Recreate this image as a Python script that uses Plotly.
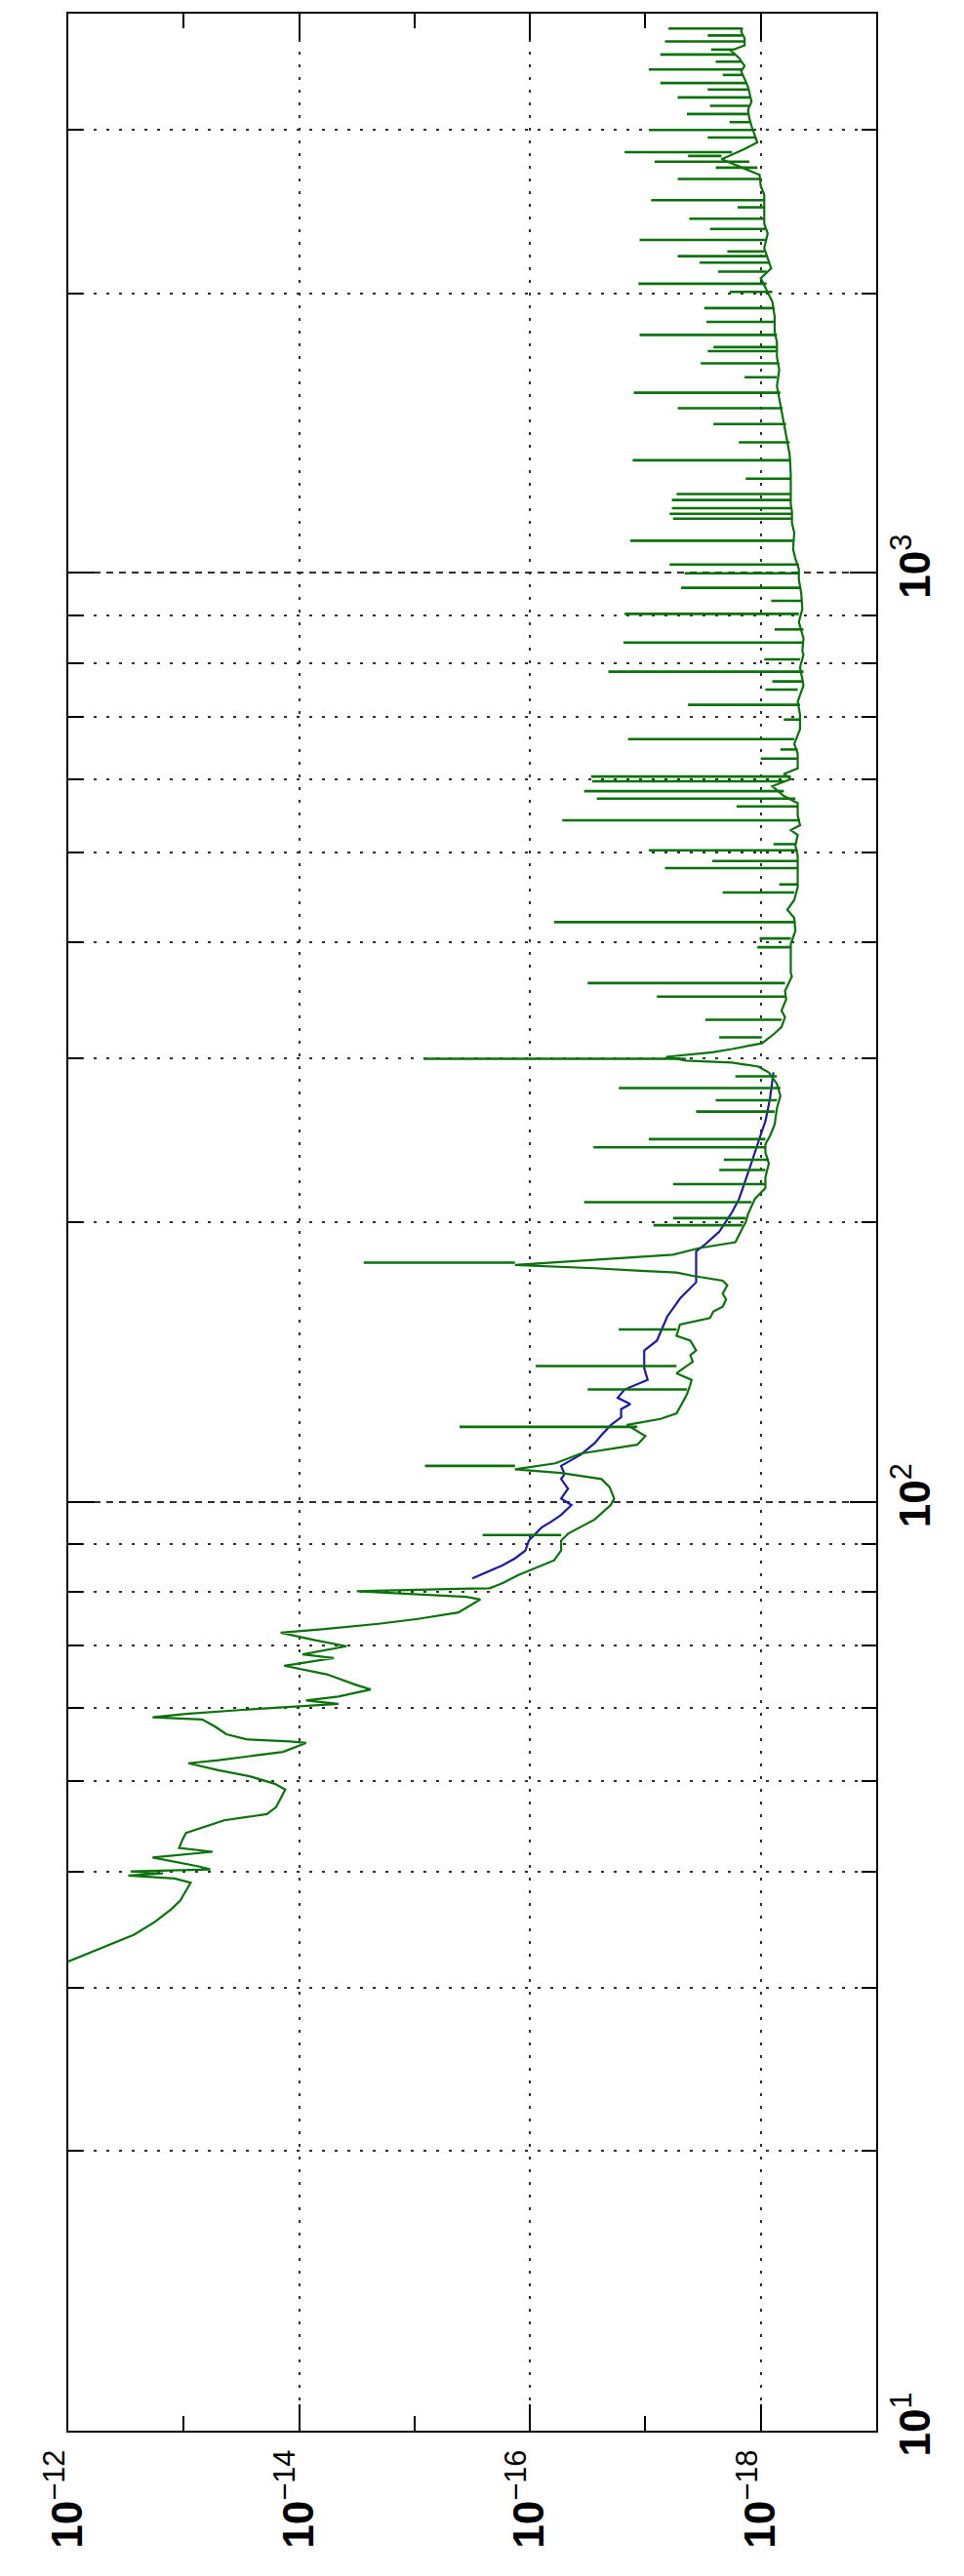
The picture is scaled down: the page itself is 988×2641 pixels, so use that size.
import math
import plotly.graph_objects as go

# ---------------- data (frequency in Hz, PSD given as log10 value) ----------------
# green curve body, split by frequency band
g1_freq = [32.0, 32.6, 33.4, 34.2, 35.3, 36.4, 37.2, 38.6, 38.9, 39.3,
           39.6, 39.8, 40.0, 40.2, 40.5, 41.4, 42.0, 42.4, 43.3, 44.0,
           45.4, 46.1, 46.9, 49.0, 49.7, 50.6, 51.4, 52.3, 52.7, 53.3,
           53.8, 55.0, 55.2, 55.5, 56.2, 57.3, 58.3, 58.6, 59.1, 59.7,
           60.2, 60.6, 61.1, 61.7, 62.8, 63.6, 65.2, 66.0, 66.6, 67.9,
           68.5, 69.9, 71.0, 72.3, 72.9, 73.9, 74.8, 76.0, 78.5, 79.0,
           79.5, 80.1, 80.6, 80.7, 81.7, 83.4, 86.5]
g1_lpsd = [-12.00, -12.16, -12.37, -12.57, -12.75, -12.89, -12.97, -13.04, -13.06, -12.92,
           -12.52, -12.82, -12.54, -13.23, -13.13, -12.73, -13.25, -12.96, -12.99, -13.02,
           -13.35, -13.72, -13.80, -13.88, -13.79, -13.58, -13.30, -13.04, -13.30, -13.61,
           -13.86, -14.06, -13.92, -13.54, -13.37, -13.27, -13.16, -12.73, -13.02, -13.51,
           -13.99, -14.34, -14.06, -14.34, -14.62, -14.48, -14.24, -14.03, -13.87, -14.30,
           -14.03, -14.41, -14.13, -13.84, -14.20, -14.69, -15.03, -15.38, -15.57, -15.45,
           -14.96, -14.50, -15.38, -15.65, -15.76, -15.90, -16.21]

g2_freq = [88.6, 90.8, 92.4, 95.7, 99.2, 100.8, 103.7, 105.8, 107.4, 108.4,
           110.0, 112.7, 114.0, 115.2, 117.7, 119.2, 121.0, 122.8, 124.5, 128.4,
           130.5, 133.7, 135.3, 137.5, 141.5, 143.8, 145.5, 149.1, 150.9, 155.2,
           157.7, 160.3, 162.2, 165.1, 167.5, 171.0, 173.0, 175.1, 176.5, 177.3,
           178.4, 179.9]
g2_lpsd = [-16.27, -16.27, -16.33, -16.56, -16.70, -16.73, -16.69, -16.62, -16.27, -15.87,
           -16.22, -16.44, -16.70, -16.93, -17.00, -16.93, -16.84, -17.13, -17.27, -17.33,
           -17.36, -17.39, -17.40, -17.27, -17.41, -17.39, -17.44, -17.39, -17.27, -17.30,
           -17.56, -17.59, -17.67, -17.70, -17.67, -17.71, -17.67, -17.41, -17.27, -16.96,
           -16.56, -15.87]

g3_freq = [183.0, 184.5, 187.6, 190.3, 196.9, 200.1, 204.1, 208.2, 212.0, 217.7,
           223.6, 231.3, 237.9, 242.7, 247.7, 254.8, 265.2, 273.5, 281.8, 289.9,
           294.1, 297.0, 298.5, 301.3, 304.7, 307.2, 311.6, 319.3, 324.5, 332.5,
           337.9, 347.5, 354.6, 367.9]
g3_lpsd = [-16.81, -17.24, -17.47, -17.78, -17.84, -17.87, -17.89, -17.92, -17.95, -18.04,
           -18.04, -18.07, -18.04, -18.04, -18.08, -18.12, -18.14, -18.17, -18.14, -18.07,
           -17.98, -17.75, -17.35, -17.18, -17.58, -17.75, -18.01, -18.12, -18.18, -18.21,
           -18.18, -18.22, -18.21, -18.27]

g4_freq = [370.7, 398.6, 411.7, 425.2, 433.9, 444.5, 459.0, 470.2, 485.7, 495.6,
           508.9, 522.2, 528.6, 535.0, 548.1, 565.1, 575.2, 589.3, 599.8, 607.6,
           616.0, 638.8, 654.5, 670.5, 678.6, 703.7, 726.8, 756.7, 791.0, 816.8]
g4_lpsd = [-18.26, -18.26, -18.30, -18.29, -18.23, -18.29, -18.32, -18.32, -18.32, -18.32,
           -18.30, -18.32, -18.26, -18.34, -18.32, -18.32, -18.20, -18.10, -18.26, -18.20,
           -18.32, -18.32, -18.29, -18.32, -18.34, -18.34, -18.32, -18.37, -18.34, -18.37]

g5_freq = [823.4, 850.4, 885.4, 914.5, 952.0, 983.3, 1009.7, 1036, 1061, 1105,
           1132, 1151, 1165, 1184, 1206, 1228, 1278, 1342, 1408, 1466,
           1526, 1589, 1654, 1708, 1771, 1820]
g5_lpsd = [-18.36, -18.37, -18.33, -18.36, -18.35, -18.33, -18.33, -18.30, -18.28, -18.29,
           -18.27, -18.27, -18.27, -18.26, -18.26, -18.26, -18.26, -18.25, -18.22, -18.19,
           -18.17, -18.14, -18.16, -18.14, -18.14, -18.12]

g6_freq = [1889, 1959, 2076, 2127, 2237, 2320, 2377, 2445, 2556, 2608,
           2683, 2788, 2860, 2907, 2973, 3027, 3089, 3152, 3216, 3287,
           3335, 3403, 3467, 3514, 3586, 3650, 3698, 3764, 3825, 3862]
g6_lpsd = [-18.12, -18.10, -18.00, -18.09, -18.03, -18.06, -18.03, -18.03, -18.03, -18.00,
           -17.99, -17.66, -17.86, -17.97, -17.94, -17.92, -17.90, -17.89, -17.92, -17.90,
           -17.89, -17.86, -17.83, -17.86, -17.81, -17.74, -17.86, -17.86, -17.83, -17.84]

# single-bin spectral lines of the green curve: frequency, log10 peak, log10 floor
spike_freq = [92.1, 109.3, 120.4, 132.1, 140.0, 153.3, 180.9,
              198.5, 202.0, 210.2, 219.8, 227.6, 233.5, 240.8, 245.7, 263.1, 270.6,
              278.9, 287.1, 299.9, 316.2, 330.3, 349.8, 361.8,
              395.4, 404.1, 420.8, 452.8, 462.0, 481.0, 489.6, 502.8, 510.5, 541.5,
              560.6, 571.5, 582.2, 596.5, 603.7, 631.1, 645.5, 662.4, 695.2, 721.0,
              748.8, 764.1, 782.8, 807.0,
              841.6, 869.2, 903.5, 933.2, 963.7, 999.1, 1021.2, 1083, 1144, 1158,
              1174, 1198, 1216, 1263, 1322, 1382, 1446, 1504, 1563, 1624,
              1681, 1733, 1750, 1804,
              1863, 1928, 2007, 2048, 2110, 2158, 2193, 2219, 2283, 2346,
              2406, 2475, 2519, 2655, 2731, 2771, 2811, 2838, 2942, 2998,
              3057, 3119, 3183, 3250, 3314, 3368, 3436, 3483, 3551, 3615,
              3659, 3734, 3789, 3855]
spike_top = [-15.59, -15.09, -15.39, -16.50, -16.05, -16.77, -14.56,
             -17.07, -17.24, -16.47, -17.24, -17.64, -17.68, -16.55, -17.03, -17.44, -17.61,
             -16.77, -17.78, -15.08, -17.64, -17.52, -17.10, -16.50,
             -17.97, -17.99, -16.21, -17.67, -18.16, -17.17, -17.58, -17.03, -18.11, -16.28,
             -17.79, -16.58, -16.47, -16.54, -16.53, -18.00, -18.17, -16.85, -18.20, -17.37,
             -18.04, -18.10, -16.68, -18.03,
             -16.81, -18.12, -16.82, -18.09, -17.31, -17.34, -17.21, -16.87, -17.24, -17.21,
             -17.23, -17.23, -17.27, -17.87, -16.89, -17.81, -17.59, -17.28, -16.90, -17.86,
             -17.48, -17.54, -17.59, -16.95,
             -17.53, -17.51, -17.73, -16.94, -17.63, -17.47, -17.28, -17.71, -16.95, -17.56,
             -17.38, -17.80, -17.05, -17.28, -17.61, -17.08, -17.37, -16.82, -17.54, -17.03,
             -17.73, -17.36, -17.56, -17.28, -17.54, -17.13, -17.67, -17.03, -17.61, -17.13,
             -17.57, -17.17, -17.54, -17.20]
spike_base = [-16.27, -15.87, -16.93, -17.36, -17.27, -17.27, -15.87,
              -17.84, -17.87, -17.92, -18.04, -18.04, -18.07, -18.04, -18.04, -18.12, -18.14,
              -18.17, -18.14, -17.35, -18.01, -18.18, -18.22, -18.21,
              -18.26, -18.26, -18.30, -18.29, -18.32, -18.32, -18.32, -18.32, -18.30, -18.34,
              -18.32, -18.30, -18.20, -18.20, -18.26, -18.32, -18.32, -18.29, -18.34, -18.34,
              -18.32, -18.37, -18.37, -18.34,
              -18.36, -18.37, -18.33, -18.36, -18.35, -18.33, -18.33, -18.28, -18.27, -18.27,
              -18.27, -18.26, -18.26, -18.26, -18.26, -18.25, -18.22, -18.19, -18.17, -18.14,
              -18.16, -18.14, -18.14, -18.14,
              -18.12, -18.12, -18.10, -18.05, -18.05, -18.07, -18.05, -18.03, -18.05, -18.04,
              -18.03, -18.03, -18.03, -17.99, -17.97, -17.90, -17.66, -17.75, -17.96, -17.93,
              -17.91, -17.89, -17.90, -17.91, -17.89, -17.87, -17.84, -17.84, -17.83, -17.78,
              -17.76, -17.86, -17.84, -17.84]

# blue curve (visible part)
blue_freq = [82.7, 85.4, 86.9, 88.6, 90.8, 93.8, 95.3, 96.8, 99.2, 100.8,
             103.3, 105.8, 107.1, 109.3, 112.4, 115.6, 118.0, 120.9, 123.3, 125.8,
             127.4, 129.4, 132.1, 135.3, 139.2, 143.2, 145.5, 149.1, 152.1, 158.3,
             163.5, 165.5, 172.3, 186.0, 189.4, 195.3, 204.9, 211.6, 216.8, 225.7,
             231.3, 237.9, 250.7, 256.8, 271.8, 278.4, 290.0]
blue_lpsd = [-15.50, -15.76, -15.87, -15.96, -15.99, -16.10, -16.19, -16.27, -16.36, -16.27,
             -16.33, -16.27, -16.30, -16.27, -16.44, -16.56, -16.62, -16.70, -16.79, -16.79,
             -16.87, -16.76, -16.82, -17.02, -16.99, -16.99, -16.99, -17.10, -17.13, -17.19,
             -17.27, -17.30, -17.44, -17.44, -17.52, -17.64, -17.75, -17.81, -17.84, -17.89,
             -17.92, -17.95, -18.01, -18.04, -18.08, -18.09, -18.11]

# axis ticks
psd_tick_vals = [1e-12, 1e-14, 1e-16, 1e-18]
psd_tick_text = ["<b>10</b><sup>\u221212</sup>", "<b>10</b><sup>\u221214</sup>",
                 "<b>10</b><sup>\u221216</sup>", "<b>10</b><sup>\u221218</sup>"]
psd_minor_vals = [1e-13, 1e-15, 1e-17, 1e-19]
freq_tick_vals = [10, 100, 1000]
freq_tick_text = ["<b>10</b><sup>1</sup>", "<b>10</b><sup>2</sup>", "<b>10</b><sup>3</sup>"]
freq_minor_vals = [20, 30, 40, 50, 60, 70, 80, 90,
                   200, 300, 400, 500, 600, 700, 800, 900, 2000, 3000]

# ---------------- build ----------------
green_freq = g1_freq + g2_freq + g3_freq + g4_freq + g5_freq + g6_freq
green_lpsd = g1_lpsd + g2_lpsd + g3_lpsd + g4_lpsd + g5_lpsd + g6_lpsd
assert len(green_freq) == len(green_lpsd)
assert len(spike_freq) == len(spike_top) == len(spike_base)
assert len(blue_freq) == len(blue_lpsd)

GREEN = "#0b720b"
BLUE = "#1a1aa8"

fig = go.Figure()
fig.add_trace(go.Scatter(
    x=[10 ** v for v in blue_lpsd], y=blue_freq, mode="lines",
    line=dict(color=BLUE, width=2.2), showlegend=False, hoverinfo="skip"))
fig.add_trace(go.Scatter(
    x=[10 ** v for v in green_lpsd], y=green_freq, mode="lines",
    line=dict(color=GREEN, width=2.2), showlegend=False, hoverinfo="skip"))

sx, sy = [], []
for f, t, b in zip(spike_freq, spike_top, spike_base):
    sx += [10 ** b, 10 ** t, None]
    sy += [f, f, None]
fig.add_trace(go.Scatter(
    x=sx, y=sy, mode="lines", line=dict(color=GREEN, width=2.6),
    showlegend=False, hoverinfo="skip"))

FONT = "Liberation Sans, Arial, Helvetica, sans-serif"
GRID = "#303030"

fig.update_layout(
    width=988, height=2641,
    margin=dict(l=70, r=90, t=14, b=149),
    paper_bgcolor="white", plot_bgcolor="white",
    font=dict(family=FONT, size=44, color="black"),
    showlegend=False,
    xaxis=dict(
        type="log", range=[-12, -19],
        tickmode="array", tickvals=psd_tick_vals, ticktext=psd_tick_text,
        tickangle=-90, ticks="inside", ticklen=27, tickwidth=2, tickcolor="black",
        showline=True, linewidth=2, linecolor="black", mirror="ticks",
        showgrid=True, gridcolor=GRID, gridwidth=2, griddash="3px,10px",
        zeroline=False,
        minor=dict(tickvals=psd_minor_vals, ticks="inside", ticklen=15,
                   tickwidth=2, tickcolor="black", showgrid=False),
    ),
    yaxis=dict(
        type="log", range=[1, math.log10(4000)], side="right",
        tickmode="array", tickvals=freq_tick_vals, ticktext=freq_tick_text,
        tickangle=-90, ticks="inside", ticklen=27, tickwidth=2, tickcolor="black",
        showline=True, linewidth=2, linecolor="black", mirror="ticks",
        showgrid=True, gridcolor=GRID, gridwidth=2, griddash="7px,6px",
        zeroline=False,
        minor=dict(tickvals=freq_minor_vals, ticks="inside", ticklen=15,
                   tickwidth=2, tickcolor="black", showgrid=True,
                   gridcolor=GRID, gridwidth=2, griddash="3px,10px"),
    ),
)

fig.write_html("out.html")
